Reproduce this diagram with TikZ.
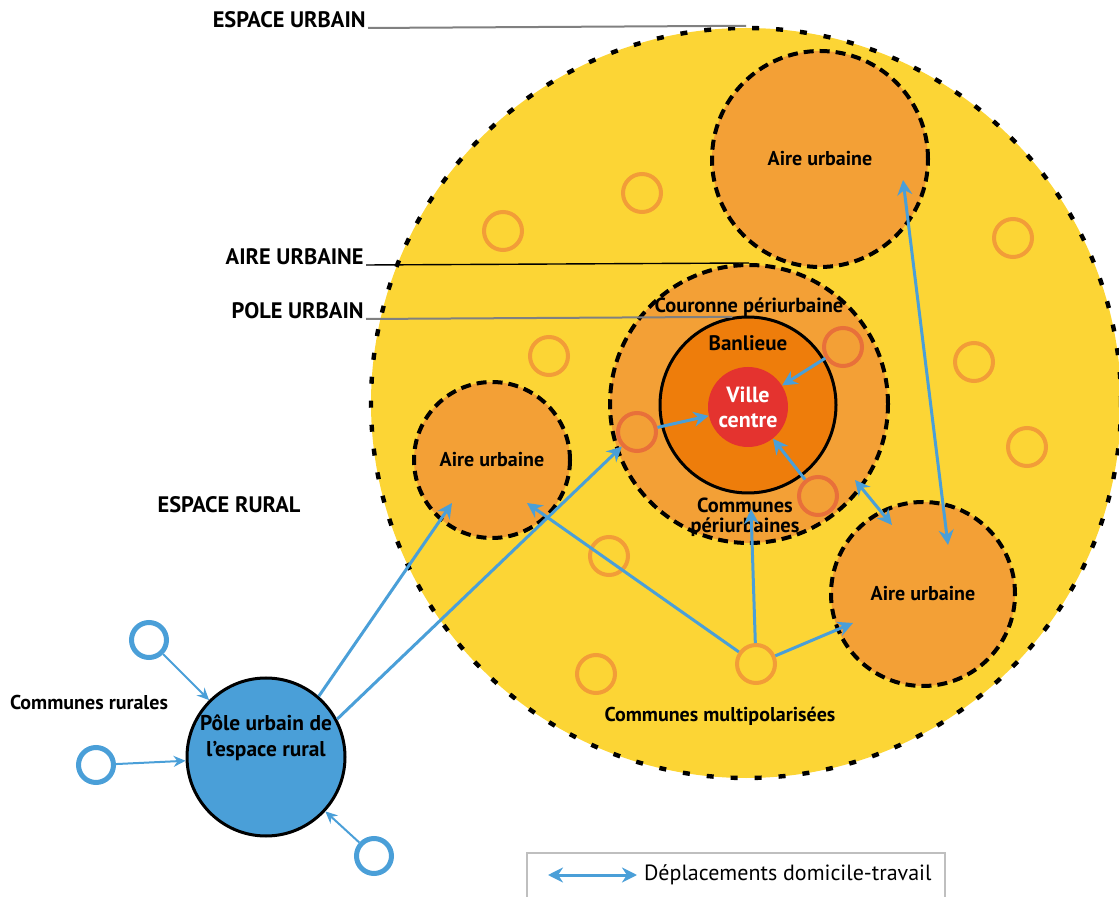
\documentclass[tikz,border=0pt]{standalone}
\usepackage{fontspec}
\setmainfont{PT Sans}
\usepackage{xcolor}
\usepackage{tikz}
\usetikzlibrary{shapes,arrows,arrows.meta,positioning}

\definecolor{jaune}{HTML}{FCD535}
\definecolor{orangeaire}{HTML}{F3A036}
\definecolor{banlieue}{HTML}{EE7D0B}
\definecolor{rouge}{HTML}{E4332F}
\definecolor{ringor}{HTML}{F29D38}
\definecolor{ringred}{HTML}{E8703A}
\definecolor{bleu}{HTML}{4A9FD8}

\begin{document}
\begin{tikzpicture}[x=0.5pt, y=-0.5pt]
    \tikzstyle{zone} = [circle, inner sep=0pt, font=\bfseries\fontsize{10}{11}\selectfont]
    \tikzstyle{aire} = [zone, fill=orangeaire, draw=black, line width=2pt, dash pattern=on 5pt off 3pt]
    \tikzstyle{ring} = [circle, inner sep=0pt, minimum size=19pt, draw=ringor, line width=2pt]
    \tikzstyle{rring} = [ring, draw=ringred, fill=orangeaire]
    \tikzstyle{bring} = [circle, inner sep=0pt, minimum size=17.5pt, draw=bleu, line width=2.5pt, fill=white]
    \tikzstyle{titre} = [font=\bfseries\fontsize{11.2}{13}\selectfont, anchor=base east, inner sep=1pt]
    \tikzstyle{lbl} = [font=\bfseries\fontsize{10.2}{11}\selectfont, align=center, inner sep=0pt]
    \tikzstyle{flow} = [-{Stealth[length=7.5pt,width=7.5pt]}, draw=bleu, line width=1.5pt]
    \tikzstyle{flows} = [{Stealth[length=7.5pt,width=7.5pt]}-{Stealth[length=7.5pt,width=7.5pt]}, draw=bleu, line width=1.5pt]
    \tikzstyle{rural} = [-{Stealth[length=6pt,width=5.5pt]}, draw=bleu, line width=1pt]

    \useasboundingbox (0,0) rectangle (1119,897);

    \node [zone, minimum size=375pt, fill=jaune, draw=black, line width=2.2pt, dash pattern=on 3.5pt off 8.5pt] (espU) at (746,403) {};

    \node [ring] (ra) at (642,193) {};
    \node [ring] (rb) at (503,231) {};
    \node [ring] (rc) at (1013,238) {};
    \node [ring] (rd) at (549,356) {};
    \node [ring] (re) at (974,362) {};
    \node [ring] (rf) at (1027,447) {};
    \node [ring] (rg) at (609,556) {};
    \node [ring] (rh) at (596,674) {};

    \node [aire, minimum size=108pt] (aireTR) at (820,159) {Aire urbaine};
    \node [aire, minimum size=78pt] (aireL) at (492,460) {Aire urbaine};
    \node [aire, minimum size=92pt] (aireBR) at (923,594) {Aire urbaine};
    \node [aire, minimum size=139pt] (cour) at (749,404) {};
    \node [zone, minimum size=88pt, fill=banlieue, draw=black, line width=1.5pt] (banl) at (748,405) {};
    \node [zone, minimum size=40pt, fill=rouge, text=white, align=center, font=\bfseries\fontsize{11}{12.5}\selectfont] (ville) at (748,407) {Ville\\centre};

    \node [rring] (ringNE) at (843,347) {};
    \node [rring] (ringW) at (637,432) {};
    \node [rring] (ringSE) at (818,496) {};
    \node [ring, fill=jaune] (hub) at (756,664) {};

    \node [titre] (labEU) at (368,28) {ESPACE URBAIN};
    \node [titre] (labAU) at (366,265) {AIRE URBAINE};
    \node [titre] (labPU) at (366,319) {POLE URBAIN};
    \draw [gray, line width=1pt] (labEU.base east) -- (espU.north);
    \draw [black, line width=0.7pt] (labAU.base east) -- (cour.north);
    \draw [gray, line width=1pt] (labPU.base east) -- (banl.100);

    \node [lbl] (tCour) at (749,307) {Couronne périurbaine};
    \node [lbl, font=\bfseries\fontsize{10.5}{11}\selectfont] (tBanl) at (748,343) {Banlieue};
    \node [lbl] (tPeri) at (745,517) {Communes\\[-1pt]périurbaines};
    \node [lbl, font=\bfseries\fontsize{10}{12}\selectfont] (tMulti) at (720,716) {Communes multipolarisées};
    \node [font=\bfseries\fontsize{11.2}{13}\selectfont] (tRural) at (229,505) {ESPACE RURAL};
    \node [lbl, font=\bfseries\fontsize{10}{11}\selectfont] (tComR) at (89,702) {Communes rurales};

    \coordinate (tipA) at (452,503);
    \coordinate (tipB) at (527,503);
    \coordinate (tipC) at (751,509);
    \coordinate (tipD) at (853,623);
    \coordinate (tipE) at (855,480);
    \coordinate (tipF) at (892,525);
    \coordinate (tipG) at (903,180);
    \coordinate (tipH) at (948,545);

    \node [zone, minimum size=79pt, fill=bleu, draw=black, line width=1.5pt, align=center, font=\bfseries\fontsize{10.7}{13}\selectfont] (pole) at (266,757) {Pôle urbain de\\l'espace rural\\[8pt]};
    \node [bring] (r1) at (149,640) {};
    \node [bring] (r2) at (96,765) {};
    \node [bring] (r3) at (374,856) {};

    \draw [rural] (r1) -- (pole);
    \draw [rural] (r2) -- (pole);
    \draw [rural] (r3) -- (pole);
    \draw [flow] (pole.49) -- (tipA);
    \draw [flow] (pole.28) -- (ringW);
    \draw [flow] (ringW) -- (ville);
    \draw [flow] (ringNE) -- (ville);
    \draw [flow] (ringSE) -- (ville);
    \draw [flow] (hub) -- (tipB);
    \draw [flow] (hub) -- (tipC);
    \draw [flow] (hub) -- (tipD);
    \draw [flows] (tipE) -- (tipF);
    \draw [flows] (tipG) -- (tipH);

    \draw [gray!50, line width=0.6pt] (527,897) -- (527,853) -- (945,853) -- (945,897);
    \node [anchor=west, font=\fontsize{11}{13}\selectfont] (legT) at (637,875) {Déplacements domicile-travail};
    \coordinate (legA) at (548,875);
    \draw [flows] (legA) -- (legT.west);
\end{tikzpicture}
\end{document}
